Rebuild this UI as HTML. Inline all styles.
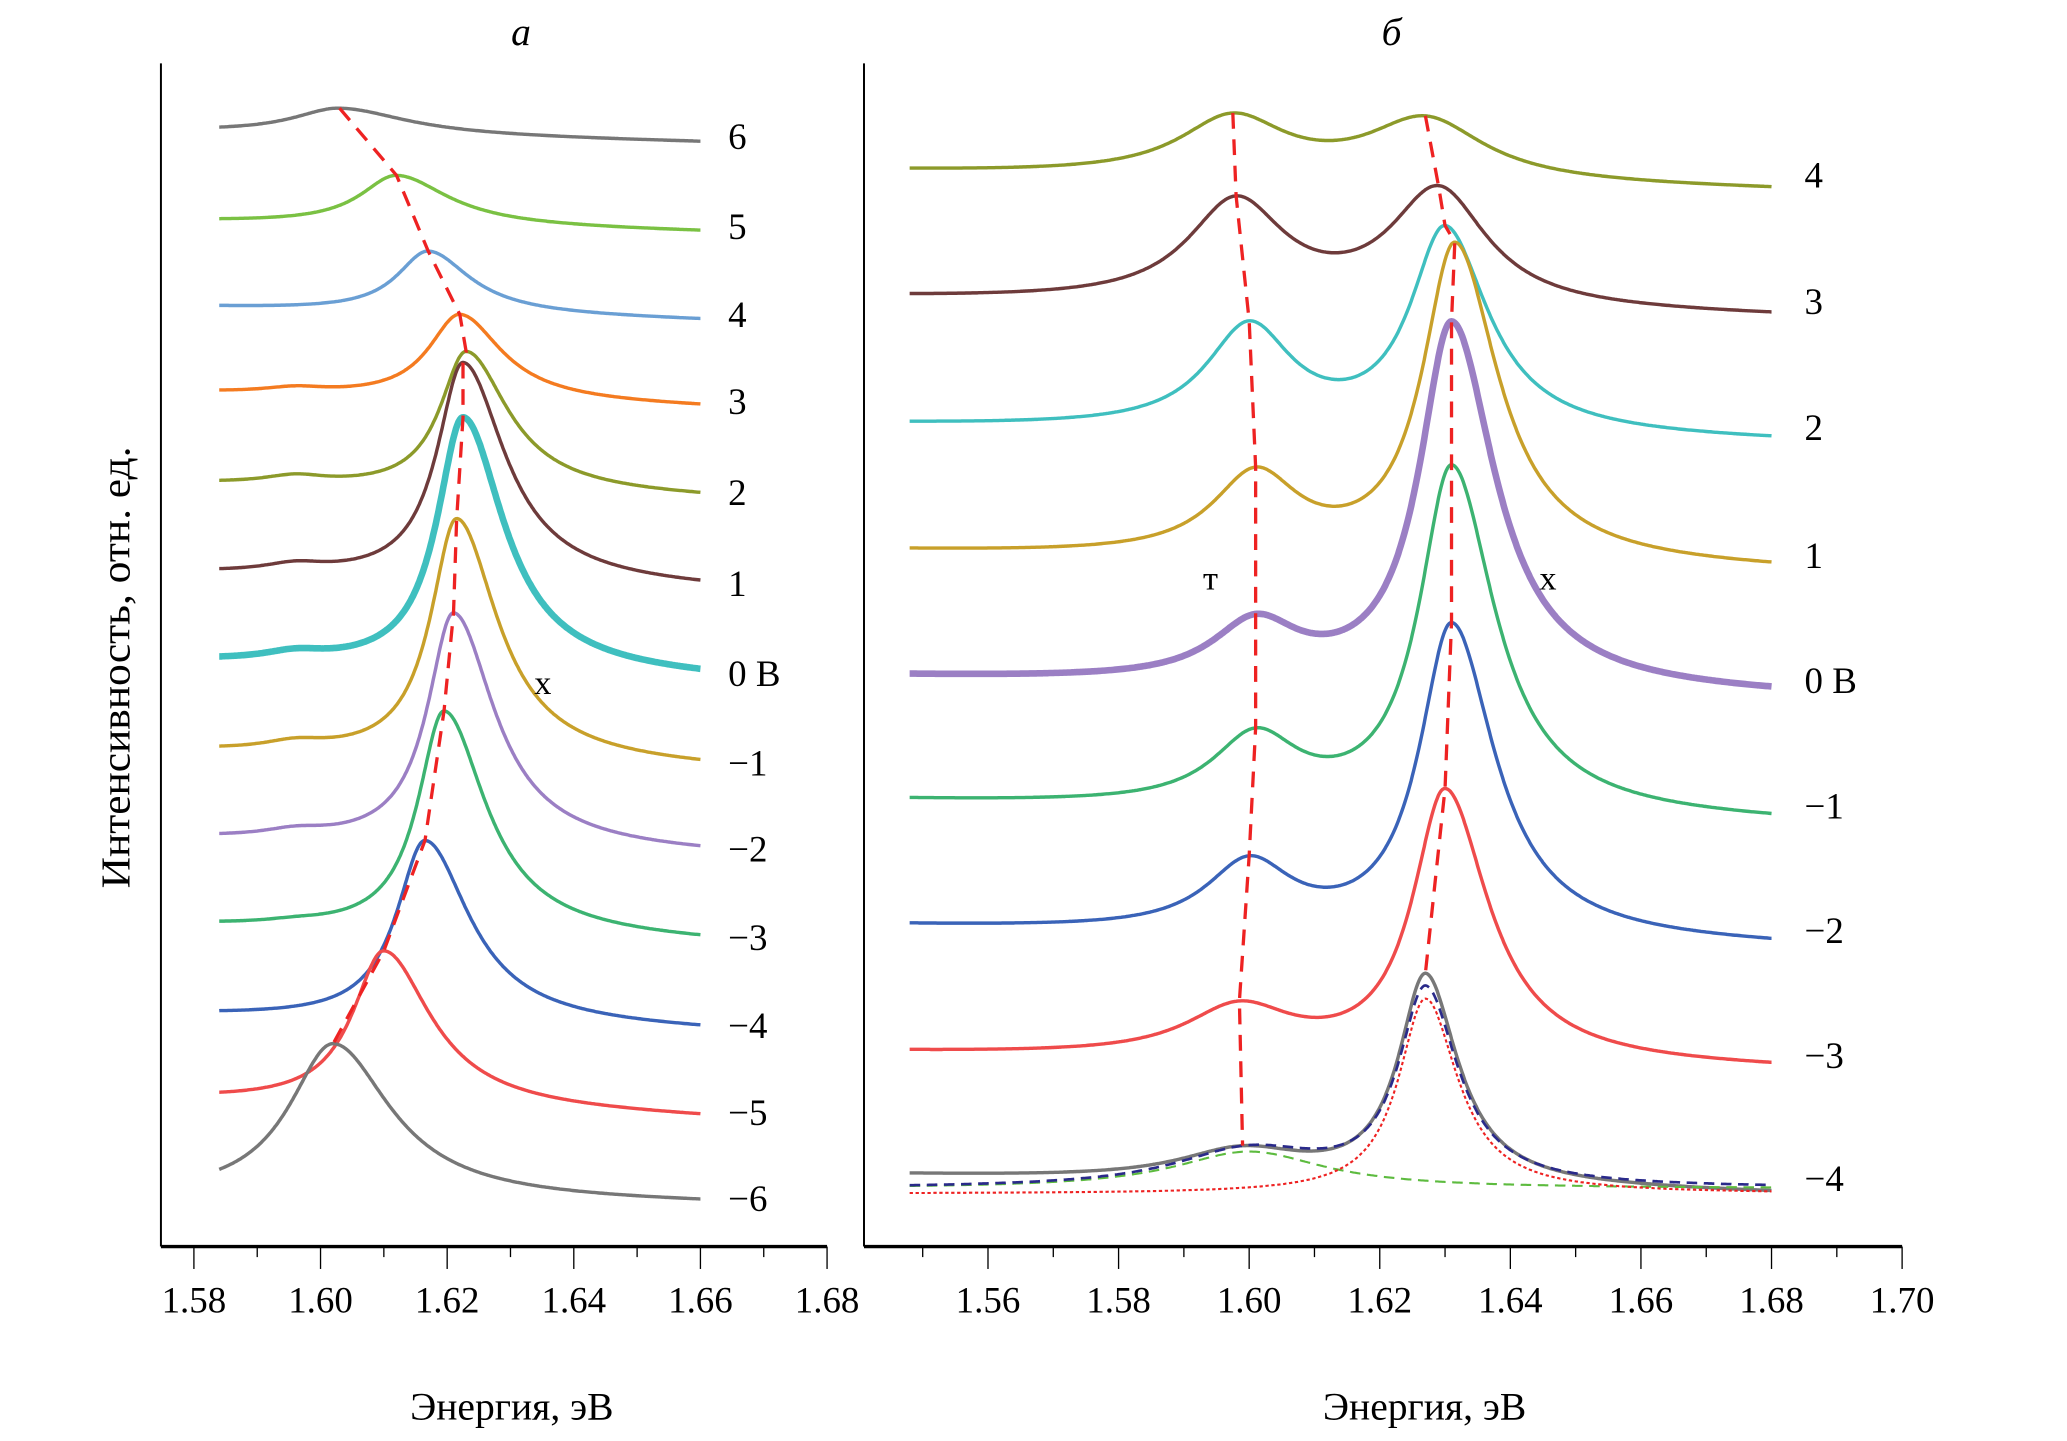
<!DOCTYPE html>
<html><head><meta charset="utf-8">
<style>
html,body{margin:0;padding:0;background:#fff;}
svg{display:block;font-family:"Liberation Serif",serif;}
</style></head>
<body>
<svg id="chart" width="2067" height="1441" viewBox="0 0 1567 1092.4" xmlns="http://www.w3.org/2000/svg">
<g id="ga"></g>
<g id="gb"></g>
</svg>
<script>
// ---------- Panel a data ----------
const aLabels = ["6","5","4","3","2","1","0 В","\u22121","\u22122","\u22123","\u22124","\u22125","\u22126"];
const aColors = ["#777777","#7ac143","#6a9fd4","#f47b20","#8c9a2a","#6e3b3b","#3fbfbf","#c8a02a","#9b7fc4","#3cb371","#3a63b8","#ef4b4b","#777777"];
const aOffsetL = [845,777,712,647,578,510,443,375,309,243,175,111,37];
const aOffsetR = [837,769,702,636,567,498,430,362,297,230,163,97,32];
const aPeakE = [1.603,1.612,1.617,1.622,1.623,1.6225,1.6225,1.6215,1.621,1.6195,1.6165,1.610,1.602];
const aPeakAmp = [20,38,47,65,106,166,192,183,177,169,138,118,118];
const aWidthL = [0.009,0.007,0.006,0.006,0.005,0.005,0.005,0.005,0.005,0.005,0.0055,0.006,0.0085];
const aWidthR = [0.013,0.010,0.008,0.008,0.008,0.008,0.0078,0.0078,0.0078,0.008,0.0085,0.009,0.011];
const aBumpAmp = [0,0,0,4,6,6,6,6,5,2,0,0,0];
const aTicks = [1.58,1.60,1.62,1.64,1.66,1.68];
// ---------- Panel b data ----------
const bLabels = ["4","3","2","1","0 В","\u22121","\u22122","\u22123","\u22124"];
const bColors = ["#8c9a2a","#6e3b3b","#3fbfbf","#c8a02a","#9b7fc4","#3cb371","#3a63b8","#ef4b4b","#777777"];
const bOffsetL = [815,719,623,527,432,338,243,147,54];
const bOffsetR = [801,705,610,512,417,321,227,134,40];
const bTrionE = [1.5975,1.598,1.600,1.601,1.601,1.601,1.600,1.5985,1.599];
const bTrionAmp = [44,76,77,61,43,52,51,37,23];
const bTrionW = [0.010,0.009,0.008,0.008,0.008,0.008,0.008,0.010,0.012];
const bExcE = [1.627,1.629,1.630,1.6315,1.631,1.631,1.631,1.630,1.627];
const bExcAmp = [46,88,154,240,276,262,237,205,158];
const bExcWL = [0.011,0.009,0.0065,0.006,0.006,0.006,0.006,0.006,0.005];
const bExcWR = [0.011,0.009,0.008,0.008,0.008,0.008,0.008,0.008,0.006];
const bFitExcAmp = 148, bFitTrAmp = 28, bFitTrW = 0.014;
const bTicks = [1.56,1.58,1.60,1.62,1.64,1.66,1.68,1.70];

const NS="http://www.w3.org/2000/svg";
function el(tag, attrs, parent){const e=document.createElementNS(NS,tag);for(const k in attrs)e.setAttribute(k,attrs[k]);parent.appendChild(e);return e;}
const yS = v => 945 - v;
const xA = E => 243 + (E-1.60)*4800;
const xB = E => 947 + (E-1.60)*4950;
function lor(E,c,wl,wr){const w=E<c?wl:wr;const d=(E-c)/w;return 1/(1+d*d);}

function axes(g, x0, x1, xs, ticks, minorStart, minorEnd){
  const ax=el('line',{x1:x0,y1:48,x2:x0,y2:945,stroke:'#000','stroke-width':1.5},g);
  
  const bx=el('line',{x1:x0,y1:945,x2:x1,y2:945,stroke:'#000','stroke-width':2.5},g);
  
  for(let k=Math.round(minorStart*100);k<=Math.round(minorEnd*100);k++){
    const E=k/100;const major=(k%2===0);
    const t=el('line',{x1:xs(E),y1:945,x2:xs(E),y2:major?962:953,stroke:'#000','stroke-width':1},g);
    
  }
  ticks.forEach(E=>{
    const t=el('text',{x:xs(E),y:995,'text-anchor':'middle','font-size':28},g);
    t.textContent=E.toFixed(2);
    
  });
}
function path(g,pts,attrs,name){
  const d=pts.map((p,i)=>(i?'L':'M')+p[0].toFixed(1)+' '+p[1].toFixed(1)).join(' ');
  const p=el('path',Object.assign({d:d,fill:'none'},attrs),g);
  
  return p;
}
// ---- Panel a ----
const ga=document.getElementById('ga');
axes(ga,122,627,xA,aTicks,1.58,1.68);
const aE0=1.584,aE1=1.66;
const aPeaks=[];
aLabels.forEach((lab,i)=>{
  const pts=[];
  for(let E=aE0;E<=aE1+1e-9;E+=0.0002){
    const f=(E-aE0)/(aE1-aE0);
    const base=aOffsetL[i]+(aOffsetR[i]-aOffsetL[i])*f;
    const v=base+aPeakAmp[i]*lor(E,aPeakE[i],aWidthL[i],aWidthR[i])+aBumpAmp[i]*lor(E,1.596,0.006,0.006);
    pts.push([xA(E),yS(v)]);
  }
  const f=(aPeakE[i]-aE0)/(aE1-aE0);
  aPeaks.push([xA(aPeakE[i]),yS(aOffsetL[i]+(aOffsetR[i]-aOffsetL[i])*f+aPeakAmp[i])]);
  path(ga,pts,{stroke:aColors[i],'stroke-width':lab==="0 В"?5:2.6,'stroke-linejoin':'round'},'spectrum-a-'+i);
  const t=el('text',{x:552,y:yS(aOffsetR[i]+4)+9,'font-size':28},ga);
  t.textContent=lab;
  
});
path(ga,aPeaks,{stroke:'#ee2222','stroke-width':2.5,'stroke-dasharray':'12 8'},'exciton-peak-trend-a');
let t=el('text',{x:405,y:526,'font-size':26},ga);t.textContent='x';

t=el('text',{x:395,y:34,'font-size':30,'font-style':'italic','text-anchor':'middle'},ga);t.textContent='а';

t=el('text',{x:388,y:1076,'font-size':30,'text-anchor':'middle'},ga);t.textContent='Энергия, эВ';

t=el('text',{x:0,y:0,'font-size':31,'text-anchor':'middle',textLength:335,lengthAdjust:'spacingAndGlyphs',transform:'translate(98,506) rotate(-90)'},ga);
t.textContent='Интенсивность, отн. ед.';


// ---- Panel b ----
const gb=document.getElementById('gb');
axes(gb,655,1442,xB,bTicks,1.55,1.70);
const bE0=1.548,bE1=1.68;
const tPk=[],xPk=[];
function baseB(i,E){return bOffsetL[i]+(bOffsetR[i]-bOffsetL[i])*(E-bE0)/(bE1-bE0);}
bLabels.forEach((lab,i)=>{
  const pts=[];
  const vt=E=>baseB(i,E)+bTrionAmp[i]*lor(E,bTrionE[i],bTrionW[i],bTrionW[i])+bExcAmp[i]*lor(E,bExcE[i],bExcWL[i],bExcWR[i]);
  for(let E=bE0;E<=bE1+1e-9;E+=0.0002){
    pts.push([xB(E),yS(vt(E))]);
  }
  tPk.push([xB(bTrionE[i]),yS(vt(bTrionE[i]))]);
  xPk.push([xB(bExcE[i]),yS(vt(bExcE[i]))]);
  path(gb,pts,{stroke:bColors[i],'stroke-width':lab==="0 В"?5:2.6,'stroke-linejoin':'round'},'spectrum-b-'+i);
  const tt=el('text',{x:1368,y:yS((bOffsetR[i]+bOffsetL[i])/2+4)+9,'font-size':28},gb);
  tt.textContent=lab;
  
});
// fits for -4 curve
const li=bLabels.length-1;
const fr=[],fg=[],fs=[];
for(let E=bE0;E<=bE1+1e-9;E+=0.0002){
  const r=bFitExcAmp*lor(E,bExcE[li],bExcWL[li],bExcWR[li]);
  const gr=bFitTrAmp*lor(E,bTrionE[li]+0.001,bFitTrW,bFitTrW);
  fr.push([xB(E),yS(40+r)]);
  fg.push([xB(E),yS(44+gr)]);
  fs.push([xB(E),yS(44+r+gr)]);
}
path(gb,fg,{stroke:'#5dbb3f','stroke-width':1.6,'stroke-dasharray':'8 5'},'trion-fit-curve');
path(gb,fr,{stroke:'#ee2222','stroke-width':1.6,'stroke-dasharray':'2.5 2'},'exciton-fit-curve');
path(gb,fs,{stroke:'#2a2a8a','stroke-width':2,'stroke-dasharray':'8 5'},'sum-fit-curve');
path(gb,tPk,{stroke:'#ee2222','stroke-width':2.5,'stroke-dasharray':'12 8'},'trion-peak-trend');
path(gb,xPk,{stroke:'#ee2222','stroke-width':2.5,'stroke-dasharray':'12 8'},'exciton-peak-trend-b');
t=el('text',{x:912,y:447,'font-size':26},gb);t.textContent='т';

t=el('text',{x:1167,y:447,'font-size':26},gb);t.textContent='x';

t=el('text',{x:1055,y:34,'font-size':30,'font-style':'italic','text-anchor':'middle'},gb);t.textContent='б';

t=el('text',{x:1080,y:1076,'font-size':30,'text-anchor':'middle'},gb);t.textContent='Энергия, эВ';

</script>
</body></html>
